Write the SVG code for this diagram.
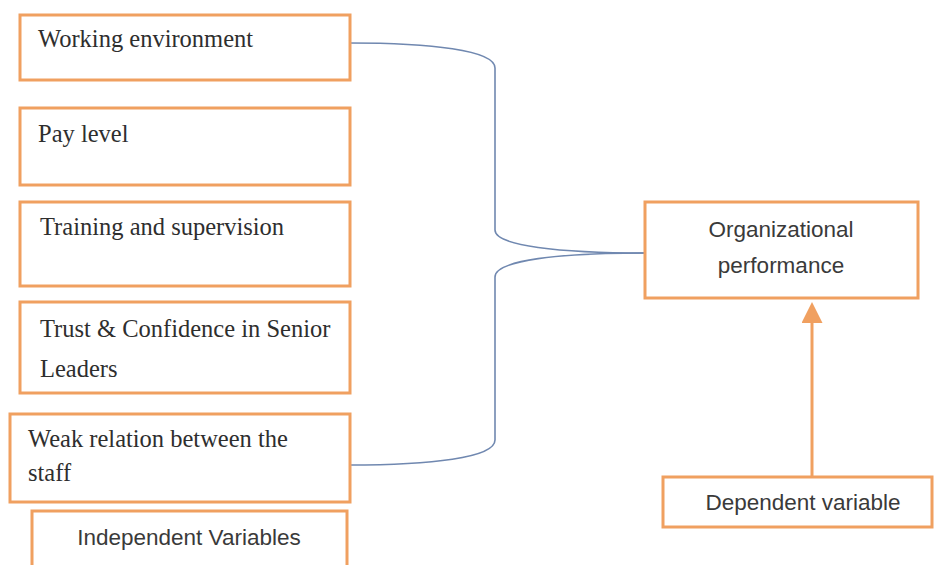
<svg xmlns="http://www.w3.org/2000/svg" width="935" height="565" viewBox="0 0 935 565">
<style>
.box{fill:#fff;stroke:#f0a060;stroke-width:3}
.serif{font-family:"Liberation Serif","Times New Roman",serif;font-size:24.5px;fill:#2e2e2e}
.sans{font-family:"Liberation Sans",Arial,sans-serif;font-size:22.5px;fill:#3a3a3a}
.conn{fill:none;stroke:#7088b0;stroke-width:1.6}
</style>
<defs>
<marker id="ah" markerWidth="7" markerHeight="7" refX="3" refY="3.5" orient="auto" markerUnits="strokeWidth">
<path d="M0,0 L7,3.5 L0,7 Z" fill="#f0a060"/>
</marker>
</defs>
<rect width="935" height="565" fill="#fff"/>
<g id="connectors">
<path class="conn" d="M349,43 C430,43 495,50 495,68 L495,230 C495,246 560,253 645,253"/>
<path class="conn" d="M645,253 C560,253 495,260 495,277 L495,440 C495,458 430,465 349,465"/>
<line x1="812" y1="477" x2="812" y2="314" stroke="#f0a060" stroke-width="3" marker-end="url(#ah)"/>
</g>
<g id="n1"><rect class="box" x="20" y="15" width="330" height="65"/><text class="serif" x="38" y="47">Working environment</text></g>
<g id="n2"><rect class="box" x="20" y="108" width="330" height="77"/><text class="serif" x="38" y="142">Pay level</text></g>
<g id="n3"><rect class="box" x="20" y="202" width="330" height="84"/><text class="serif" x="40" y="235">Training and supervision</text></g>
<g id="n4"><rect class="box" x="20" y="302" width="330" height="91"/><text class="serif" x="40" y="337">Trust &amp; Confidence in Senior</text><text class="serif" x="40" y="377">Leaders</text></g>
<g id="n5"><rect class="box" x="10" y="414" width="340" height="88"/><text class="serif" x="28" y="447">Weak relation between the</text><text class="serif" x="28" y="481">staff</text></g>
<g id="n6"><rect class="box" x="32" y="511" width="315" height="70"/><text class="sans" x="189" y="545" text-anchor="middle">Independent Variables</text></g>
<g id="n7"><rect class="box" x="645" y="202" width="273" height="96"/><text class="sans" x="781" y="237" text-anchor="middle">Organizational</text><text class="sans" x="781" y="273" text-anchor="middle">performance</text></g>
<g id="n8"><rect class="box" x="663" y="477" width="269" height="50"/><text class="sans" x="803" y="510" text-anchor="middle">Dependent variable</text></g>
</svg>
